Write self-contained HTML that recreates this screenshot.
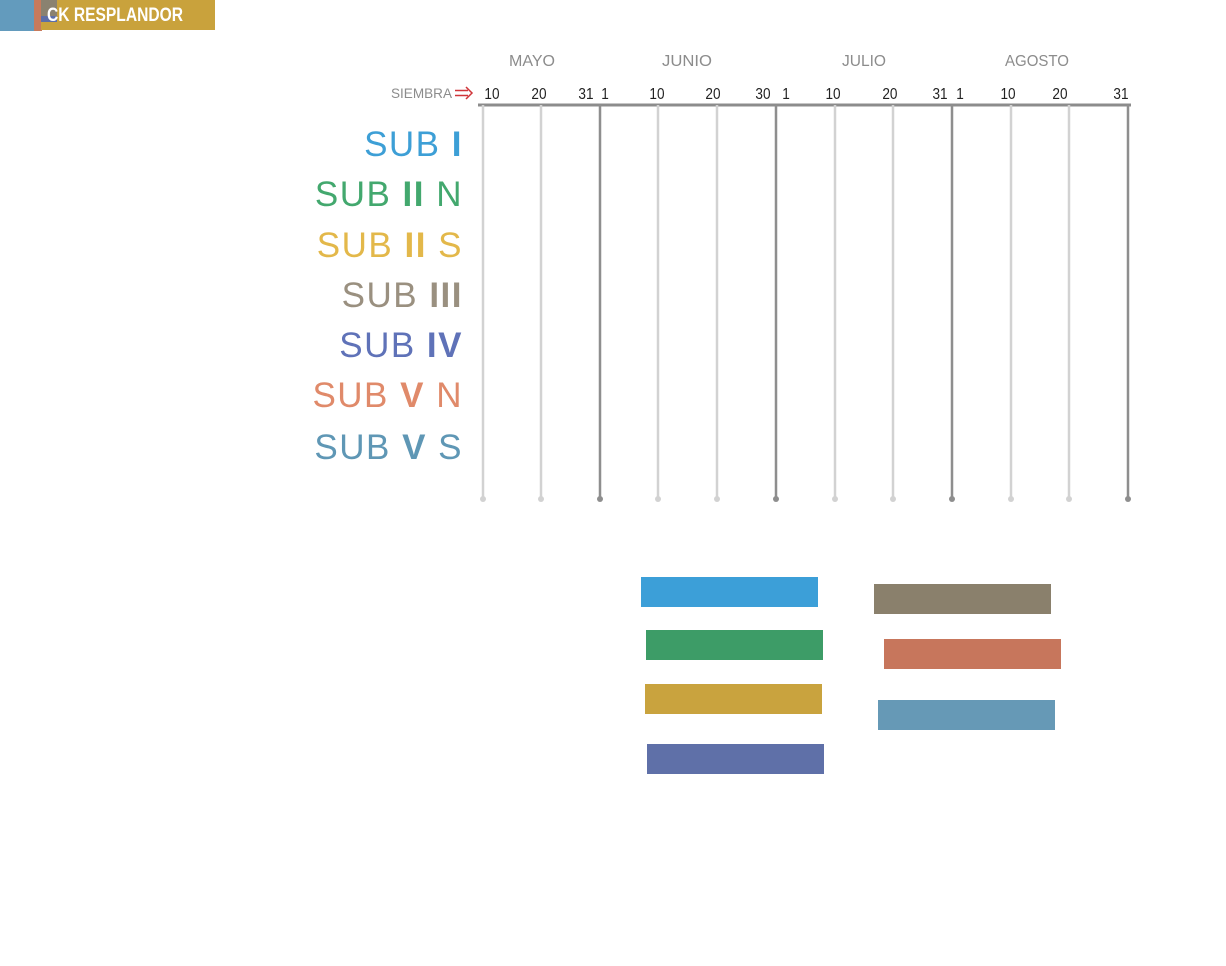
<!DOCTYPE html>
<html><head><meta charset="utf-8"><style>
html,body{margin:0;padding:0;background:#fff;width:1226px;height:966px;overflow:hidden}
svg{display:block}
.lab{font-family:"Liberation Sans",sans-serif;font-size:35px;letter-spacing:1.5px}
</style></head><body>
<svg width="1226" height="966" viewBox="0 0 1226 966">
<rect x="0" y="0" width="35" height="31" fill="#639bbd"/>
<rect x="34" y="0" width="8" height="31" fill="#c87a5c"/>
<rect x="41" y="0" width="174" height="30" fill="#c9a23c"/>
<rect x="41" y="0" width="16" height="16" fill="#8a8270"/>
<rect x="41" y="16" width="16" height="6" fill="#5c6ea8"/>
<text x="47" y="21" font-family="'Liberation Sans',sans-serif" font-weight="bold" font-size="19" fill="#fff" textLength="136" lengthAdjust="spacingAndGlyphs">CK RESPLANDOR</text>

<g font-family="'Liberation Sans',sans-serif" font-size="16" fill="#8c8c8c" text-anchor="middle">
<text x="532" y="66" textLength="46" lengthAdjust="spacingAndGlyphs">MAYO</text>
<text x="687" y="66" textLength="50" lengthAdjust="spacingAndGlyphs">JUNIO</text>
<text x="864" y="66" textLength="44" lengthAdjust="spacingAndGlyphs">JULIO</text>
<text x="1037" y="66" textLength="64" lengthAdjust="spacingAndGlyphs">AGOSTO</text>
</g>
<text x="452" y="98" font-family="'Liberation Sans',sans-serif" font-size="14" fill="#8c8c8c" text-anchor="end" textLength="61" lengthAdjust="spacingAndGlyphs">SIEMBRA</text>
<g stroke="#d0363a" stroke-width="1.5" fill="none"><path d="M455 90.5h13M455 95.5h13M466 87l6 6-6 6"/></g>
<g font-family="'Liberation Sans',sans-serif" font-size="16" fill="#222" text-anchor="middle" transform="scale(0.85,1)">
<text x="578.8" y="99">10</text><text x="634.1" y="99">20</text><text x="689.4" y="99">31</text><text x="711.8" y="99">1</text>
<text x="772.9" y="99">10</text><text x="838.8" y="99">20</text><text x="897.6" y="99">30</text><text x="924.7" y="99">1</text>
<text x="980" y="99">10</text><text x="1047" y="99">20</text><text x="1105.9" y="99">31</text><text x="1129.4" y="99">1</text>
<text x="1185.9" y="99">10</text><text x="1247" y="99">20</text><text x="1318.8" y="99">31</text>
</g>
<line x1="478" y1="105" x2="1131" y2="105" stroke="#8c8c8c" stroke-width="3"/>
<g stroke-width="2.5">
<g stroke="#d2d2d2">
<line x1="483" y1="105" x2="483" y2="499"/><line x1="541" y1="105" x2="541" y2="499"/>
<line x1="658" y1="105" x2="658" y2="499"/><line x1="717" y1="105" x2="717" y2="499"/>
<line x1="835" y1="105" x2="835" y2="499"/><line x1="893" y1="105" x2="893" y2="499"/>
<line x1="1011" y1="105" x2="1011" y2="499"/><line x1="1069" y1="105" x2="1069" y2="499"/>
</g>
<g stroke="#8e8e8e">
<line x1="600" y1="105" x2="600" y2="499"/><line x1="776" y1="105" x2="776" y2="499"/>
<line x1="952" y1="105" x2="952" y2="499"/><line x1="1128" y1="105" x2="1128" y2="499"/>
</g>
</g>
<g fill="#d2d2d2">
<circle cx="483" cy="499" r="3"/><circle cx="541" cy="499" r="3"/><circle cx="658" cy="499" r="3"/><circle cx="717" cy="499" r="3"/>
<circle cx="835" cy="499" r="3"/><circle cx="893" cy="499" r="3"/><circle cx="1011" cy="499" r="3"/><circle cx="1069" cy="499" r="3"/>
</g>
<g fill="#8e8e8e">
<circle cx="600" cy="499" r="3"/><circle cx="776" cy="499" r="3"/><circle cx="952" cy="499" r="3"/><circle cx="1128" cy="499" r="3"/>
</g>

<g class="lab" text-anchor="end">
<text x="463" y="156" fill="#3d9fd6">SUB <tspan font-weight="bold">I</tspan></text>
<text x="463" y="206" fill="#43a86e">SUB <tspan font-weight="bold">II</tspan> N</text>
<text x="463" y="257" fill="#e3b84a">SUB <tspan font-weight="bold">II</tspan> S</text>
<text x="463" y="307" fill="#9a9080">SUB <tspan font-weight="bold">III</tspan></text>
<text x="463" y="357" fill="#5f72b8">SUB <tspan font-weight="bold">IV</tspan></text>
<text x="463" y="407" fill="#e08a6a">SUB <tspan font-weight="bold">V</tspan> N</text>
<text x="463" y="459" fill="#5f97b5">SUB <tspan font-weight="bold">V</tspan> S</text>
</g>

<rect x="641" y="577" width="177" height="30" fill="#3c9fd8"/>
<rect x="646" y="630" width="177" height="30" fill="#3d9c67"/>
<rect x="645" y="684" width="177" height="30" fill="#c9a33e"/>
<rect x="647" y="744" width="177" height="30" fill="#5f70a8"/>
<rect x="874" y="584" width="177" height="30" fill="#8a806c"/>
<rect x="884" y="639" width="177" height="30" fill="#c7765c"/>
<rect x="878" y="700" width="177" height="30" fill="#6699b6"/>
</svg>
</body></html>
